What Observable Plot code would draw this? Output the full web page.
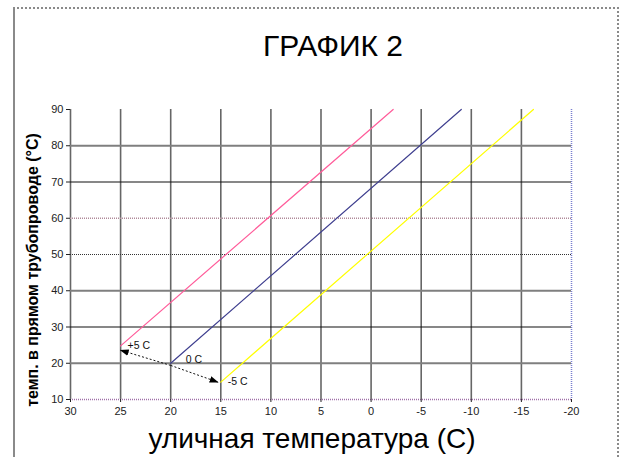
<!DOCTYPE html>
<html><head><meta charset="utf-8">
<script src="https://cdn.jsdelivr.net/npm/d3@7"></script>
<script src="https://cdn.jsdelivr.net/npm/@observablehq/plot@0.6"></script>
<style>
html,body{margin:0;padding:0;background:#fff;}
#wrap{position:relative;width:624px;height:457px;overflow:hidden;font-family:"Liberation Sans",Arial,sans-serif;}
#frame{position:absolute;left:13px;top:7px;width:602px;height:480px;border-left:2px solid #8a8a8a;border-top:2px dotted #8a8a8a;border-right:2px dotted #8a8a8a;pointer-events:none;}
#chart{position:absolute;left:0;top:0;}
#title{position:absolute;left:233px;width:200px;top:31px;line-height:30px;text-align:center;font-size:30px;color:#000;white-space:nowrap;}
#ylab{position:absolute;left:-117px;width:300px;top:261px;line-height:18px;text-align:center;font-size:16px;font-weight:bold;color:#000;transform:rotate(-90deg);white-space:nowrap;}
#xlab{position:absolute;left:112px;width:400px;top:424px;line-height:30px;text-align:center;font-size:28px;color:#000;white-space:nowrap;}
svg g[aria-label="annot"] text{letter-spacing:2.2px;}
</style>
</head><body>
<div id="wrap">
<div id="chart"></div>
<div id="frame"></div>
<div id="title">ГРАФИК 2</div>
<div id="ylab">темп. в прямом трубопроводе (°C)</div>
<div id="xlab">уличная температура (C)</div>
</div>
<script>
// tick values
const xTicks = [30, 25, 20, 15, 10, 5, 0, -5, -10, -15, -20];
const yTicks = [10, 20, 30, 40, 50, 60, 70, 80, 90];

// heating curves (outdoor temp -> supply temp)
const seriesNames = ["+5 C", "0 C", "-5 C"];
const plus5X = [25, -2.2];   const plus5Y = [24.8, 90];
const zeroX = [20, -9.0];    const zeroY = [20, 90];
const minus5X = [15, -16.2]; const minus5Y = [14.8, 90];

// parallel-shift arrows
const arrowFromX = [20, 20];     const arrowFromY = [19.4, 19.4];
const arrowToX = [25, 15.3];     const arrowToY = [23.6, 14.8];

// annotation labels
const labelX = [24.3, 18.5, 14.3];
const labelY = [24.9, 21.0, 15.0];

const colors = ["#ff5c9a", "#3f3f8f", "#ffff00"];

const lines = [];
[[plus5X, plus5Y], [zeroX, zeroY], [minus5X, minus5Y]].forEach(([xs, ys], k) => {
  xs.forEach((x, i) => lines.push({s: seriesNames[k], x, y: ys[i]}));
});
const arrows = arrowToX.map((x2, i) => ({x1: arrowFromX[i], y1: arrowFromY[i], x2, y2: arrowToY[i]}));
const labels = seriesNames.map((t, i) => ({t, x: labelX[i], y: labelY[i]}));

// grid styling rules
const yDotted = new Set([10, 50, 60]);
const yGrey = new Set([80, 40, 20]);
const yGrid = yTicks.filter(v => v !== 90);
const yDot = yGrid.filter(v => yDotted.has(v));
const ySolidGrey = yGrid.filter(v => yGrey.has(v));
const ySolidBlack = yGrid.filter(v => !yDotted.has(v) && !yGrey.has(v));
const xSolid = xTicks.filter(v => v !== -20);
const xDot = xTicks.filter(v => v === -20);

function triangleMarker(color) {
  const m = document.createElementNS("http://www.w3.org/2000/svg", "marker");
  m.setAttribute("viewBox", "-5 -5 10 10");
  m.setAttribute("markerUnits", "userSpaceOnUse");
  m.setAttribute("markerWidth", 9);
  m.setAttribute("markerHeight", 9);
  m.setAttribute("refX", 4);
  m.setAttribute("orient", "auto");
  const p = document.createElementNS("http://www.w3.org/2000/svg", "path");
  p.setAttribute("d", "M-5,-3.6L5,0L-5,3.6Z");
  p.setAttribute("fill", "#000");
  p.setAttribute("stroke", "none");
  m.appendChild(p);
  return m;
}

const chart = Plot.plot({
  width: 624,
  height: 457,
  marginLeft: 70,
  marginRight: 53,
  marginTop: 109,
  marginBottom: 58,
  style: {fontFamily: "'Liberation Sans', Arial, sans-serif", fontSize: "11px", color: "#222", background: "transparent"},
  x: {domain: [30, -20], ticks: xTicks, tickSize: 3, tickPadding: 5, label: null},
  y: {domain: [10, 90], ticks: yTicks, tickSize: 4, tickPadding: 3, label: null},
  marks: [
    Plot.ruleX(xSolid, {stroke: "#666", strokeWidth: 1.6}),
    Plot.ruleX(xDot, {stroke: "#7a7fd0", strokeWidth: 1.5, strokeDasharray: "1,1"}),
    Plot.ruleY(ySolidGrey, {stroke: "#7f7f7f", strokeWidth: 2}),
    Plot.ruleY(ySolidBlack, {stroke: "#111", strokeWidth: 1.2}),
    Plot.ruleY(yDot.filter(v => v === 60), {stroke: "#b08a9a", strokeWidth: 1.5, strokeDasharray: "1,1"}),
    Plot.ruleY(yDot.filter(v => v === 50), {stroke: "#333", strokeWidth: 1.2, strokeDasharray: "1,1"}),
    Plot.ruleY(yDot.filter(v => v === 10), {stroke: "#a070a8", strokeWidth: 1.5, strokeDasharray: "1,1"}),
    Plot.line(lines, {x: "x", y: "y", z: "s", stroke: d => colors[seriesNames.indexOf(d.s)], strokeWidth: 1.2}),
    Plot.link(arrows, {x1: "x1", y1: "y1", x2: "x2", y2: "y2", stroke: "#111", strokeWidth: 1, strokeDasharray: "2,2", markerEnd: triangleMarker}),
    Plot.text(labels, {x: "x", y: "y", text: "t", textAnchor: "start", fontSize: 10.5, fill: "#111", ariaLabel: "annot"}),
    Plot.axisX({ticks: xTicks, tickSize: 3, tickPadding: 5, fontSize: 11, tickFormat: d => String(d)}),
    Plot.axisY({ticks: yTicks, tickSize: 4, tickPadding: 3, fontSize: 11})
  ]
});
document.getElementById("chart").appendChild(chart);
</script>
</body></html>
